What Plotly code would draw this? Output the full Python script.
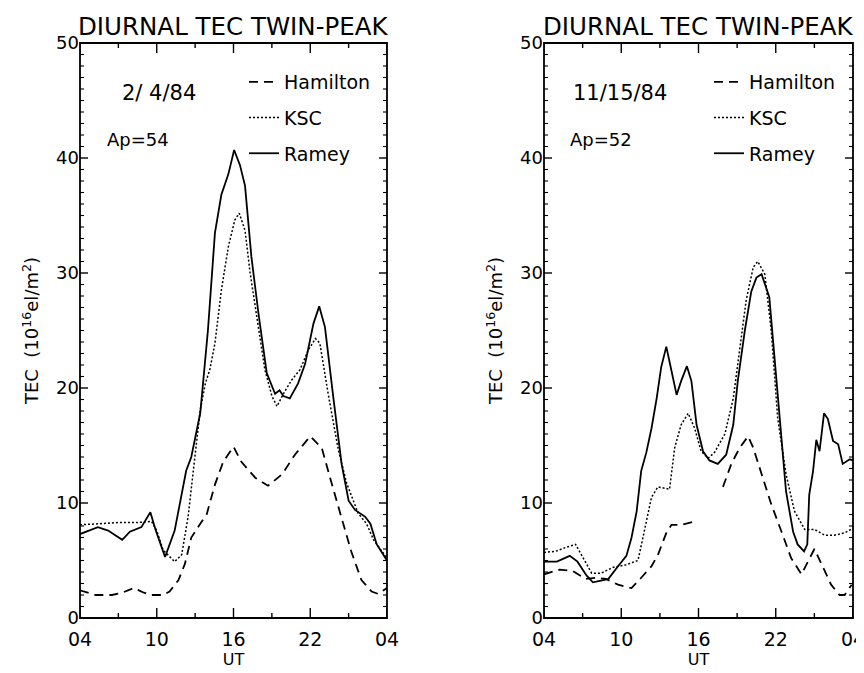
import plotly.graph_objects as go

# ---------------- data ----------------
# Left panel: 2/4/84, Ap=54
l_ramey_t = [4.0, 5.4, 6.2, 7.3, 7.9, 8.8, 9.5, 9.9, 10.65, 11.4, 12.3, 12.7, 13.4, 14.0, 14.55, 15.05,
             15.6, 16.05, 16.5, 16.9, 17.4, 17.95, 18.6, 19.25, 19.6, 19.9, 20.4, 21.05, 21.6, 22.25,
             22.7, 23.15, 23.8, 24.45, 25.0, 25.5, 26.3, 26.7, 27.2, 28.0]
l_ramey_v = [7.3, 7.9, 7.6, 6.8, 7.5, 7.9, 9.2, 7.7, 5.3, 7.6, 12.8, 14.0, 17.8, 25.0, 33.5, 36.8,
             38.6, 40.7, 39.4, 37.6, 31.4, 26.5, 21.3, 19.5, 19.8, 19.3, 19.1, 20.4, 22.1, 25.6,
             27.1, 25.3, 19.2, 13.4, 10.2, 9.4, 8.8, 8.2, 6.4, 5.0]

l_ksc_t = [4.0, 5.5, 7.0, 8.5, 9.6, 10.0, 10.5, 11.4, 11.95, 12.45, 13.0, 13.4, 13.8, 14.15, 14.55,
           15.05, 15.6, 16.1, 16.45, 16.9, 17.3, 17.8, 18.45, 19.0, 19.4, 19.9, 20.55, 21.2, 21.85,
           22.4, 22.75, 23.4, 24.2, 24.85, 25.25, 25.75, 26.4, 26.95, 28.0]
l_ksc_v = [8.1, 8.2, 8.3, 8.3, 8.4, 7.6, 5.9, 4.9, 5.5, 8.8, 14.0, 18.1, 20.4, 21.6, 23.9,
           28.5, 32.3, 34.6, 35.2, 33.7, 30.0, 26.2, 21.6, 19.3, 18.4, 19.5, 20.7, 21.6, 23.3,
           24.3, 23.9, 19.5, 14.6, 11.7, 10.5, 9.1, 8.2, 6.8, 5.2]

l_ham_t = [4.0, 5.2, 6.5, 7.3, 8.2, 9.0, 9.6, 10.5, 11.0, 11.7, 12.2, 12.7, 13.4, 13.9, 14.55, 15.2,
           16.0, 16.6, 17.7, 18.7, 19.8, 20.8, 22.0, 22.9, 23.7, 24.45, 25.2, 26.0, 26.8, 27.3, 28.0]
l_ham_v = [2.4, 2.0, 2.0, 2.2, 2.6, 2.2, 2.0, 2.0, 2.3, 3.3, 4.7, 7.0, 8.2, 9.0, 11.6, 13.6,
           14.9, 13.6, 12.2, 11.5, 12.5, 14.2, 15.8, 14.8, 11.6, 8.7, 5.8, 3.3, 2.3, 2.1, 2.6]

# Right panel: 11/15/84, Ap=52
r_ramey_t = [4.0, 5.0, 6.0, 6.6, 7.3, 7.8, 8.6, 9.0, 9.75, 10.4, 10.8, 11.2, 11.55, 11.95, 12.35, 12.75,
             13.1, 13.5, 13.9, 14.3, 14.65, 15.1, 15.45, 15.85, 16.35, 16.85, 17.5, 18.15, 18.7, 19.05,
             19.6, 20.1, 20.5, 20.9, 21.5, 21.9, 22.3, 22.8, 23.35, 23.7, 24.2, 24.45, 24.6, 24.9,
             25.15, 25.4, 25.75, 26.05, 26.45, 26.85, 27.2, 27.75, 28.0]
r_ramey_v = [4.9, 4.9, 5.4, 4.9, 3.7, 3.1, 3.3, 3.4, 4.5, 5.4, 7.0, 9.3, 12.8, 14.4, 16.5, 19.1,
             21.8, 23.6, 21.5, 19.4, 20.6, 21.9, 20.6, 16.8, 14.5, 13.7, 13.4, 14.2, 16.8, 20.6,
             25.0, 28.4, 29.6, 29.9, 27.9, 22.6, 17.4, 11.0, 7.5, 6.4, 5.8, 6.4, 10.7, 12.8,
             15.5, 14.5, 17.8, 17.3, 15.4, 15.1, 13.4, 13.8, 13.7]

r_ksc_t = [4.0, 4.9, 5.6, 6.45, 7.05, 7.7, 8.45, 9.35, 10.3, 11.3, 11.8, 12.35, 12.85, 13.75, 14.15,
           14.65, 15.2, 15.7, 16.2, 16.75, 17.25, 18.05, 18.7, 19.2, 19.7, 20.25, 20.6, 21.15, 21.65,
           22.15, 22.8, 23.45, 24.25, 25.0, 25.8, 26.55, 27.35, 28.0]
r_ksc_v = [5.7, 5.8, 6.1, 6.4, 5.2, 3.9, 3.9, 4.4, 4.6, 5.0, 7.6, 10.5, 11.4, 11.2, 14.8,
           16.8, 17.8, 16.5, 14.5, 13.9, 14.4, 16.0, 19.1, 23.5, 27.6, 30.5, 31.0, 29.9, 25.0,
           17.4, 12.5, 9.3, 7.7, 7.7, 7.2, 7.2, 7.4, 7.8]

# Hamilton has a data gap (None) around 16-18 UT
r_ham_t = [4.0, 5.2, 6.2, 7.25, 8.1, 8.8, 9.75, 10.8, 11.55, 12.35, 12.85, 13.5, 13.9, 14.65, 15.75,
           16.8,
           17.9, 18.55, 19.2, 19.85, 20.25, 20.9, 21.65, 22.45, 23.2, 24.0, 24.4, 25.0, 25.55, 26.3,
           26.95, 27.35, 27.9]
r_ham_v = [3.8, 4.2, 4.1, 3.4, 3.5, 3.4, 2.9, 2.6, 3.5, 4.5, 5.5, 7.4, 8.1, 8.1, 8.4,
           None,
           11.4, 13.4, 14.8, 15.8, 14.8, 12.5, 9.9, 7.5, 5.2, 3.8, 4.7, 6.0, 4.7, 2.9,
           2.0, 2.0, 2.9]

x_tickvals = [4, 10, 16, 22, 28]
x_ticktext = ["04", "10", "16", "22", "04"]
x_minorvals = [7, 13, 19, 25]
y_tickvals = [0, 10, 20, 30, 40, 50]
y_minorvals = [v for v in range(0, 51) if v % 10 != 0]

panel_title = "DIURNAL TEC TWIN-PEAK"
dates = ["2/ 4/84", "11/15/84"]
aps = ["Ap=54", "Ap=52"]

# ---------------- figure ----------------
# the page body has an 8px margin; figure is sized / positioned to fill the 864x673 window
OX, OY = 8, 8
W, H = 864 - OX, 673 - OY
FONT = "DejaVu Sans"


def px(x):
    return (x - OX) / W


def py(y):
    return 1 - (y - OY) / H


fig = go.Figure()

dom_x = [(px(80), px(387)), (px(544), px(853))]
dom_y = (py(618), py(43))
plot_w = [(387 - 80), (853 - 544)]
plot_h = 618 - 43

styles = {
    "Hamilton": dict(dash="9px,6px", width=1.8),
    "KSC": dict(dash="2px,2px", width=1.5),
    "Ramey": dict(dash="solid", width=1.8),
}

panels = [
    [("Hamilton", l_ham_t, l_ham_v), ("KSC", l_ksc_t, l_ksc_v), ("Ramey", l_ramey_t, l_ramey_v)],
    [("Hamilton", r_ham_t, r_ham_v), ("KSC", r_ksc_t, r_ksc_v), ("Ramey", r_ramey_t, r_ramey_v)],
]

for i, series in enumerate(panels):
    xa = "x" if i == 0 else "x2"
    ya = "y" if i == 0 else "y2"
    leg = "legend" if i == 0 else "legend2"
    for name, t, v in series:
        st = styles[name]
        fig.add_trace(go.Scatter(
            x=t, y=v, mode="lines", name=name, xaxis=xa, yaxis=ya,
            line=dict(color="black", width=st["width"], dash=st["dash"]),
            connectgaps=False, legend=leg, legendgroup=f"{leg}-{name}",
            hoverinfo="skip",
        ))

axis_common = dict(
    showline=False, ticks="", showgrid=False, zeroline=False,
    ticklabeloverflow="allow",
)

for i in range(2):
    sfx = "" if i == 0 else "2"
    fig.update_layout(**{
        f"xaxis{sfx}": dict(
            domain=list(dom_x[i]), range=[4, 28], anchor=f"y{sfx}",
            tickmode="array", tickvals=x_tickvals, ticktext=x_ticktext,
            ticklabelstandoff=8,
            tickfont=dict(family=FONT, size=19, color="black"),
            title=dict(text="UT", font=dict(family=FONT, size=16, color="black"), standoff=0),
            **axis_common,
        ),
        f"yaxis{sfx}": dict(
            domain=list(dom_y), range=[0, 50], anchor=f"x{sfx}",
            tickmode="array", tickvals=y_tickvals,
            tickfont=dict(family=FONT, size=18, color="black"),
            title=dict(text="TEC  (10<sup>16</sup>el/m<sup>2</sup>)",
                       font=dict(family=FONT, size=18, color="black"), standoff=12),
            **axis_common,
        ),
    })

# frame and inward ticks drawn as shapes (on all four sides, IDL style)
shapes = []
LW = 1.8
for i in range(2):
    sfx = "" if i == 0 else "2"
    shapes.append(dict(type="rect", xref="paper", yref="paper",
                       x0=dom_x[i][0], x1=dom_x[i][1], y0=dom_y[0], y1=dom_y[1],
                       line=dict(color="black", width=LW), fillcolor="rgba(0,0,0,0)", layer="above"))
    for vals, L in ((x_tickvals, 10), (x_minorvals, 5)):
        f = L / plot_h
        for xv in vals:
            for y0, y1 in ((0, f), (1, 1 - f)):
                shapes.append(dict(type="line", xref=f"x{sfx}", yref=f"y{sfx} domain",
                                   x0=xv, x1=xv, y0=y0, y1=y1,
                                   line=dict(color="black", width=1.4), layer="above"))
    for vals, L, w in ((y_tickvals, 8, 1.4), (y_minorvals, 4, 1.1)):
        f = L / plot_w[i]
        for yv in vals:
            for x0, x1 in ((0, f), (1, 1 - f)):
                shapes.append(dict(type="line", xref=f"x{sfx} domain", yref=f"y{sfx}",
                                   x0=x0, x1=x1, y0=yv, y1=yv,
                                   line=dict(color="black", width=w), layer="above"))

annotations = []
centers = [px((80 + 387) / 2), px((544 + 853) / 2)]
date_cx = [px(159), px(620)]
ap_x = [px(105), px(568)]
for i in range(2):
    annotations.append(dict(text=panel_title, x=centers[i], y=py(26), xref="paper", yref="paper",
                            xanchor="center", yanchor="middle", showarrow=False,
                            font=dict(family=FONT, size=24.5, color="black")))
    annotations.append(dict(text=dates[i], x=date_cx[i], y=py(93), xref="paper", yref="paper",
                            xanchor="center", yanchor="middle", showarrow=False,
                            font=dict(family=FONT, size=21, color="black")))
    annotations.append(dict(text=aps[i], x=ap_x[i], y=py(140), xref="paper", yref="paper",
                            xanchor="left", yanchor="middle", showarrow=False,
                            font=dict(family=FONT, size=18, color="black")))

legend_common = dict(
    xanchor="left", yanchor="top", bgcolor="rgba(0,0,0,0)", borderwidth=0,
    font=dict(family=FONT, size=19, color="black"), tracegroupgap=8, itemwidth=30,
)

fig.update_layout(
    width=W, height=H,
    margin=dict(l=0, r=0, t=0, b=0, autoexpand=False),
    paper_bgcolor="white", plot_bgcolor="white",
    annotations=annotations, shapes=shapes,
    legend=dict(x=px(244), y=py(63), **legend_common),
    legend2=dict(x=px(709), y=py(63), **legend_common),
    showlegend=True,
)

fig.write_html("out.html")
